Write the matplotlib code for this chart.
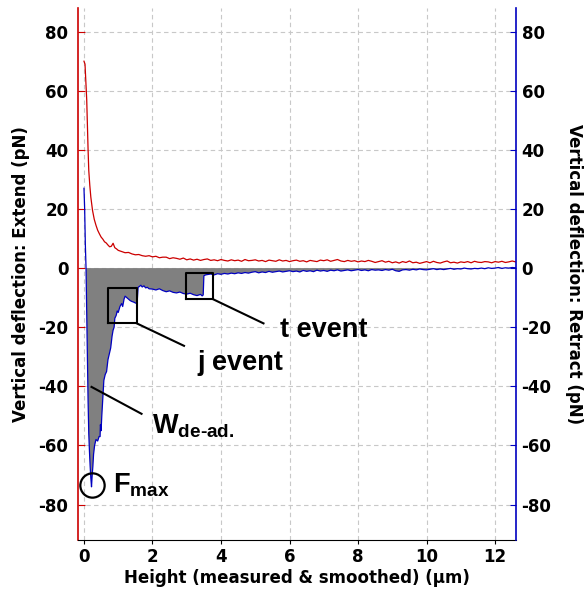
import numpy as np
import matplotlib
matplotlib.use("Agg")
import matplotlib.pyplot as plt

plt.rcParams["font.family"] = "DejaVu Sans"
plt.rcParams["axes.unicode_minus"] = False
plt.rcParams["mathtext.fontset"] = "custom"
plt.rcParams["mathtext.rm"] = "Liberation Sans:bold"
plt.rcParams["mathtext.bf"] = "Liberation Sans:bold"

RED = "#cc0000"
BLUE = "#0000c0"
GREY = "#808080"

# extend curve (red): steep approach part, then a 0.1 um sampled tail
extend_head_x = [0.0, 0.03, 0.06, 0.08, 0.10, 0.12, 0.14, 0.17, 0.20, 0.25, 0.30,
                 0.35, 0.40, 0.45, 0.50, 0.55, 0.60, 0.65, 0.70, 0.75, 0.80, 0.85, 0.90, 0.95]
extend_head_y = [70, 69, 62, 57, 48, 40, 33, 28, 24, 19.5, 16.5,
                 14.5, 12.8, 11.6, 10.5, 9.8, 8.9, 8.5, 7.8, 7.2, 7.4, 8.4, 6.9, 6.5]
extend_tail_x = np.round(np.arange(10, 127) / 10, 1)
extend_tail_y = [
    6.0, 5.6, 5.2, 5.3, 4.8, 4.5, 4.6, 4.2, 4.0, 4.2,
    3.8, 4.0, 3.5, 3.7, 3.7, 3.2, 3.5, 3.3, 3.0, 3.4,
    2.8, 3.1, 2.7, 3.0, 2.6, 2.9, 3.1, 2.6, 2.8, 2.5,
    2.9, 2.6, 2.4, 2.8, 2.5, 2.7, 2.3, 2.9, 2.5, 2.6,
    2.8, 2.4, 2.6, 2.2, 2.7, 2.5, 2.3, 2.8, 2.4, 2.6,
    2.2, 2.5, 2.7, 2.3, 2.5, 2.1, 2.6, 2.4, 2.2, 2.7,
    2.5, 2.8, 2.3, 2.6, 2.9, 2.4, 2.2, 2.6, 2.3, 2.5,
    2.1, 2.4, 2.2, 2.6, 2.3, 1.9, 2.2, 2.5, 2.0, 2.3,
    1.8, 2.1, 1.7, 2.2, 1.9, 2.4, 1.8, 2.0, 1.6, 1.9,
    2.2, 1.8, 2.3, 1.9, 1.7, 2.1, 2.4, 1.8, 2.0, 1.7,
    2.1, 1.9, 2.2, 1.8, 2.3, 2.0, 1.9, 2.2, 2.1, 1.8,
    2.2, 2.0, 2.3, 1.9, 2.1, 2.4, 2.1,
]

# retract curve (blue): adhesion well, j event near 1.55 um, t event near 3.5 um
retract_head_x = [0.0, 0.02, 0.04, 0.06, 0.08, 0.10, 0.12, 0.14, 0.16, 0.18, 0.20,
                  0.22, 0.24, 0.26, 0.28, 0.31, 0.35, 0.40, 0.44, 0.47, 0.48, 0.50,
                  0.52, 0.55, 0.58, 0.62, 0.66, 0.70, 0.74, 0.78, 0.82, 0.85, 0.88,
                  0.90, 0.94, 0.97, 1.00, 1.05, 1.10, 1.13, 1.17, 1.20, 1.25, 1.30,
                  1.35, 1.40, 1.45, 1.50, 1.55, 1.58, 1.62, 1.66, 1.70, 1.75, 1.80,
                  1.85, 1.90,
                  2.0, 2.1, 2.2, 2.3, 2.4, 2.5, 2.6, 2.7, 2.8, 2.9, 3.0, 3.1, 3.2,
                  3.3, 3.4, 3.45, 3.48, 3.50, 3.55]
retract_head_y = [27, 20, 8, 0, -15, -30, -45, -56, -62, -67, -71,
                  -74, -70, -67, -63, -60, -58, -58.5, -57, -57, -53, -55,
                  -50, -44, -38, -36, -35, -31, -29, -27, -23, -21, -20,
                  -17, -16, -14.5, -15, -13, -12, -13, -10.5, -9.5, -10, -10.5,
                  -11, -11.3, -11.5, -11.8, -12, -6.5, -6.2, -5.8, -6.4, -6.0, -6.7,
                  -6.5, -7.0,
                  -7.1, -7.4, -7.0, -7.6, -8.0, -7.7, -8.2, -8.4, -8.1, -8.6, -8.8,
                  -8.5, -9.0, -9.3, -8.9, -9.4, -9.1, -2.6, -2.3]
retract_tail_x = np.round(np.arange(36, 127) / 10, 1)
retract_tail_y = [
    -2.2, -2.0, -2.3, -1.9, -2.1, -1.8, -2.0, -1.7, -1.9, -1.6,
    -1.8, -1.5, -1.7, -1.4, -1.2, -1.6, -1.3, -1.5, -1.1, -1.4,
    -1.2, -1.0, -1.3, -1.1, -0.9, -1.2, -1.0, -1.3, -0.8, -1.1,
    -0.9, -1.2, -0.7, -1.0, -0.8, -1.1, -0.7, -0.9, -0.6, -1.0,
    -0.8, -0.6, -0.9, -0.7, -0.5, -0.8, -0.6, -0.9, -0.5, -0.7,
    -0.6, -0.8, -0.5, -0.7, -0.4, -0.9, -1.1, -0.6, -0.5, -0.7,
    -0.4, -0.6, -0.3, -0.5, -0.6, -0.4, -0.2, -0.5, -0.3, -0.5,
    -0.3, -0.1, -0.4, -0.2, -0.3, 0.0, -0.2, -0.3, -0.1, -0.2,
    0.0, -0.2, 0.1, -0.1, 0.0, 0.2, -0.1, 0.1, 0.0, 0.2,
    0.1,
]

y_ticks = [80, 60, 40, 20, 0, -20, -40, -60, -80]
x_ticks = [0, 2, 4, 6, 8, 10, 12]

# event boxes (x0, x1, y0, y1) and leader lines
j_box = (0.69, 1.54, -18.7, -6.9)
t_box = (2.97, 3.78, -10.6, -1.5)
j_leader = ([1.54, 2.92], [-18.7, -26.3])
t_leader = ([3.78, 5.24], [-10.6, -18.7])
w_leader = ([0.22, 1.68], [-40.2, -49.3])

extend_x = np.concatenate([extend_head_x, extend_tail_x])
extend_y = np.concatenate([extend_head_y, extend_tail_y])
retract_x = np.concatenate([retract_head_x, retract_tail_x])
retract_y = np.concatenate([retract_head_y, retract_tail_y])

fig = plt.figure(figsize=(5.85, 5.92), dpi=100)
ax = fig.add_axes([0.1333, 0.0878, 0.7487, 0.8987])
ax2 = ax.twinx()

xlim = (-0.175, 12.61)
ylim = (-92, 88)

ax.grid(True, color="#c8c8c8", linestyle=(0, (4, 3)), linewidth=0.8)
ax.set_axisbelow(True)

ax.fill_between(retract_x, retract_y, 0, where=(retract_x >= 0.06) & (retract_y <= 0),
                color=GREY, linewidth=0, interpolate=True, zorder=2)
ax.plot(extend_x, extend_y, color=RED, linewidth=0.9, zorder=3)
ax.plot(retract_x, retract_y, color=BLUE, linewidth=0.9, zorder=4)

# Fmax marker at the deepest point of the retract curve
i_min = int(np.argmin(retract_y))
ax.plot(retract_x[i_min] + 0.02, retract_y[i_min] + 0.5, marker="o", markersize=17.5,
        markerfacecolor="none", markeredgecolor="black", markeredgewidth=1.6, zorder=6)

for x0, x1, y0, y1 in (j_box, t_box):
    ax.plot([x0, x1, x1, x0, x0], [y0, y0, y1, y1, y0], color="black", linewidth=1.5, zorder=6)
for lx, ly in (j_leader, t_leader, w_leader):
    ax.plot(lx, ly, color="black", linewidth=1.5, zorder=6)

ann = dict(fontsize=19.5, color="black", family="Liberation Sans", fontweight="bold",
           va="baseline", ha="left", zorder=7)
ax.text(0.85, -76, r"F$_{\rm max}$", **ann)
ax.text(2.0, -56, r"W$_{\rm de\text{-}ad.}$", **ann)
ax.text(3.3, -34.6, "j event", **ann)
ax.text(5.72, -23.4, "t event", **ann)

for a in (ax, ax2):
    a.set_xlim(*xlim)
    a.set_ylim(*ylim)
    a.set_yticks(y_ticks)
    a.spines["top"].set_visible(False)

ax.set_xticks(x_ticks)
ax.spines["left"].set_color(RED)
ax.spines["left"].set_linewidth(1.2)
ax.spines["right"].set_visible(False)
ax2.spines["left"].set_visible(False)
ax2.spines["bottom"].set_visible(False)
ax2.spines["right"].set_color(BLUE)
ax2.spines["right"].set_linewidth(1.2)

ax.tick_params(axis="y", direction="in", length=5, color=RED, pad=7, labelsize=12)
ax.tick_params(axis="x", direction="out", length=3, pad=3, labelsize=12)
ax2.tick_params(axis="y", direction="in", length=4, color=BLUE, pad=4, labelsize=12)
for lab in ax.get_xticklabels() + ax.get_yticklabels() + ax2.get_yticklabels():
    lab.set_fontweight("bold")

ax.set_xlabel("Height (measured & smoothed) (µm)", fontsize=12, fontweight="bold", labelpad=2)
ax.set_ylabel("Vertical deflection: Extend (pN)", fontsize=12, fontweight="bold", labelpad=6)
ax2.set_ylabel("Vertical deflection: Retract (pN)", fontsize=12, fontweight="bold",
               rotation=270, labelpad=23)

fig.savefig("out.png", dpi=100)
